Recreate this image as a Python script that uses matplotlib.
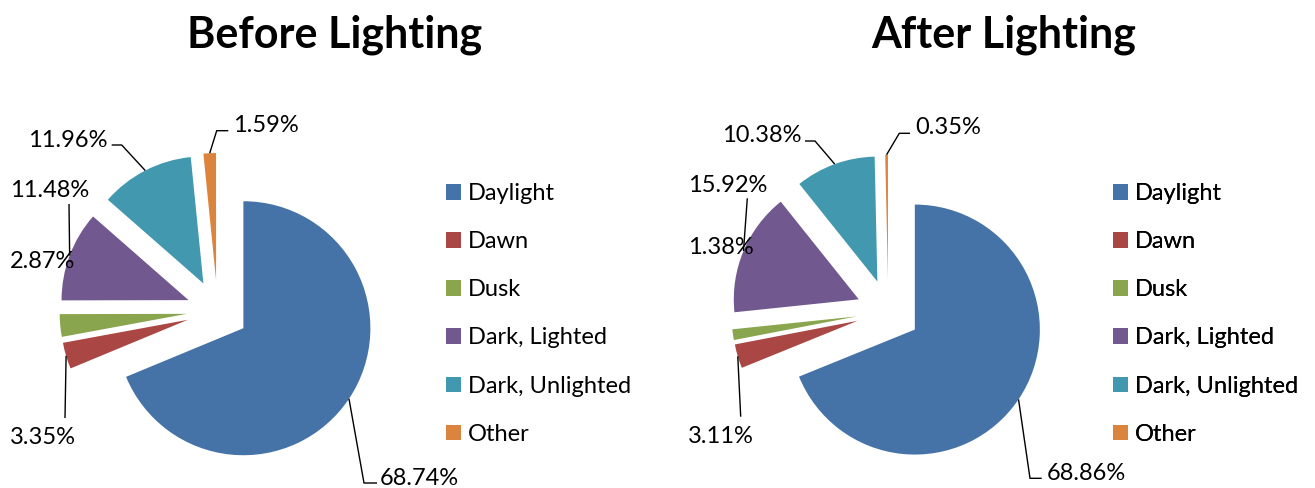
import numpy as np
import matplotlib.pyplot as plt

W, H = 1315, 488

categories = ["Daylight", "Dawn", "Dusk", "Dark, Lighted", "Dark, Unlighted", "Other"]
before = [68.74, 3.35, 2.87, 11.48, 11.96, 1.59]
after = [68.86, 3.11, 1.38, 15.92, 10.38, 0.35]
colors = ["#4572A7", "#AA4643", "#89A54E", "#71588F", "#4198AF", "#DB843D"]

plt.rcParams["font.family"] = ["Lato", "DejaVu Sans"]

# layout in pixels, y counted from the top edge
panels = [
    dict(title="Before Lighting", values=before, center=(217.6, 311), radius=127,
         explode=31, title_x=334.5, legend_x=446,
         label_pos=[(380, 485), (10, 444.3), (10, 268), (10, 196.7), (28, 147.3), (233, 132.3)],
         leader=[[(364, 483), (377, 483)], [(65, 418)], [], [(69, 204)],
                 [(121.7, 145), (111.7, 145)], [(216.7, 130.7), (228.3, 130.7)]]),
    dict(title="After Lighting", values=after, center=(888.3, 311.7), radius=125,
         explode=32, title_x=1004, legend_x=1113,
         label_pos=[(1047, 480), (688, 443.3), (688, 254), (688, 191.7), (722, 142.3), (915, 134.3)],
         leader=[[(1030, 478.3), (1041.7, 478.3)], [(740.7, 416.7)], [], [(747.3, 198.3)],
                 [(815, 141), (805, 141)], [(899.3, 133.3), (910, 133.3)]]),
]


def py(y):
    return H - y


fig = plt.figure(figsize=(W / 100, H / 100), dpi=100)
ax = fig.add_axes([0, 0, 1, 1])

for p in panels:
    cx, cy = p["center"]
    wedges, _ = ax.pie(p["values"], colors=colors, startangle=90, counterclock=False,
                       radius=p["radius"], center=(cx, py(cy)),
                       explode=[p["explode"]] * len(p["values"]),
                       wedgeprops=dict(linewidth=0), frame=True)

    # percentage labels with leader lines from the middle of each arc
    for w, v, (lx, ly), pts in zip(wedges, p["values"], p["label_pos"], p["leader"]):
        ax.text(lx, py(ly), f"{v:.2f}%", fontsize=17, ha="left", va="baseline")
        if pts:
            mid = np.deg2rad((w.theta1 + w.theta2) / 2)
            sx = w.center[0] + w.r * np.cos(mid)
            sy = w.center[1] + w.r * np.sin(mid)
            xs = [sx] + [q[0] for q in pts]
            ys = [sy] + [py(q[1]) for q in pts]
            ax.plot(xs, ys, color="black", linewidth=1.0, solid_capstyle="butt")

    ax.text(p["title_x"], py(47.3), p["title"], fontsize=31, fontweight="bold",
            ha="center", va="baseline")

    leg = ax.legend(wedges, categories, loc="upper left",
                    bbox_to_anchor=(p["legend_x"], py(183)), bbox_transform=ax.transData,
                    frameon=False, fontsize=17, handlelength=0.64, handleheight=0.64,
                    handletextpad=0.3, labelspacing=1.15, borderpad=0, borderaxespad=0)
    ax.add_artist(leg)

ax.set_xlim(0, W)
ax.set_ylim(0, H)
ax.set_aspect("equal")
ax.axis("off")

fig.savefig("out.png", dpi=100)
